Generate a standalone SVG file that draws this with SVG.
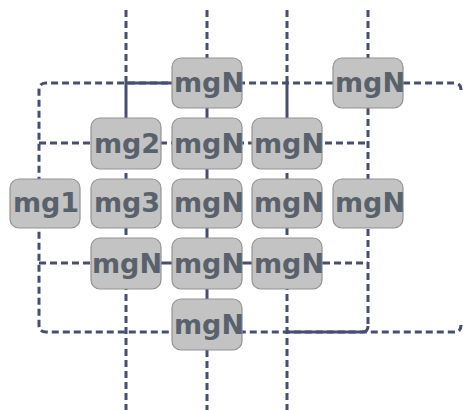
<svg xmlns="http://www.w3.org/2000/svg" width="463" height="410" viewBox="0 0 463 410">
<style>
.d{fill:none;stroke:#464f72;stroke-width:3;stroke-dasharray:7 4}
.s{fill:none;stroke:#464f72;stroke-width:3}
.n rect{fill:#c3c3c3;stroke:#939393;stroke-width:1.2}
.n text{font-family:"DejaVu Sans",sans-serif;font-weight:bold;font-size:27px;fill:#59626c;text-anchor:middle}
</style>
<rect width="463" height="410" fill="#ffffff"/>
<g id="connectors">
<path class="d" d="M461,90 Q461,83 454,83 H46 Q39,83 39,90 V325 Q39,332 46,332 H454 Q461,332 461,325"/>
<path class="s" d="M126,83 H172"/>
<path class="d" d="M126,10 V83"/>
<path class="s" d="M126,83 V118"/>
<path class="d" d="M126,118 V410"/>
<path class="d" d="M207,10 V58"/>
<path class="s" d="M207,58 V350"/>
<path class="d" d="M207,350 V410"/>
<path class="d" d="M287,10 V83"/>
<path class="s" d="M287,83 V118"/>
<path class="d" d="M287,118 V410"/>
<path class="d" d="M368,10 V58"/>
<path class="d" d="M368,108 V326"/>
<path class="s" d="M287,332 H362 Q368,332 368,326"/>
<path class="d" d="M39,143 H368"/>
<path class="d" d="M39,263 H91"/>
<path class="s" d="M91,263 H323"/>
<path class="d" d="M323,263 H368"/>
</g>
<g id="node-top" class="n"><rect x="172" y="58" width="70" height="50" rx="9"/><text x="209" y="92">mgN</text></g>
<g id="node-topright" class="n"><rect x="333" y="58" width="70" height="50" rx="9"/><text x="370" y="92">mgN</text></g>
<g id="node-mg2" class="n"><rect x="91" y="118" width="70" height="51" rx="9"/><text x="127" y="153">mg2</text></g>
<g id="node-r2c2" class="n"><rect x="172" y="118" width="70" height="51" rx="9"/><text x="209" y="153">mgN</text></g>
<g id="node-r2c3" class="n"><rect x="252" y="118" width="70" height="51" rx="9"/><text x="289" y="153">mgN</text></g>
<g id="node-mg1" class="n"><rect x="10" y="179" width="70" height="49" rx="9"/><text x="46" y="212">mg1</text></g>
<g id="node-mg3" class="n"><rect x="91" y="179" width="70" height="49" rx="9"/><text x="127" y="212">mg3</text></g>
<g id="node-r3c2" class="n"><rect x="172" y="179" width="70" height="49" rx="9"/><text x="209" y="212">mgN</text></g>
<g id="node-r3c3" class="n"><rect x="252" y="179" width="70" height="49" rx="9"/><text x="289" y="212">mgN</text></g>
<g id="node-r3c4" class="n"><rect x="333" y="179" width="70" height="49" rx="9"/><text x="370" y="212">mgN</text></g>
<g id="node-r4c1" class="n"><rect x="91" y="238" width="70" height="51" rx="9"/><text x="127" y="273">mgN</text></g>
<g id="node-r4c2" class="n"><rect x="172" y="238" width="70" height="51" rx="9"/><text x="209" y="273">mgN</text></g>
<g id="node-r4c3" class="n"><rect x="252" y="238" width="70" height="51" rx="9"/><text x="289" y="273">mgN</text></g>
<g id="node-bottom" class="n"><rect x="172" y="299" width="70" height="51" rx="9"/><text x="209" y="334">mgN</text></g>
</svg>
